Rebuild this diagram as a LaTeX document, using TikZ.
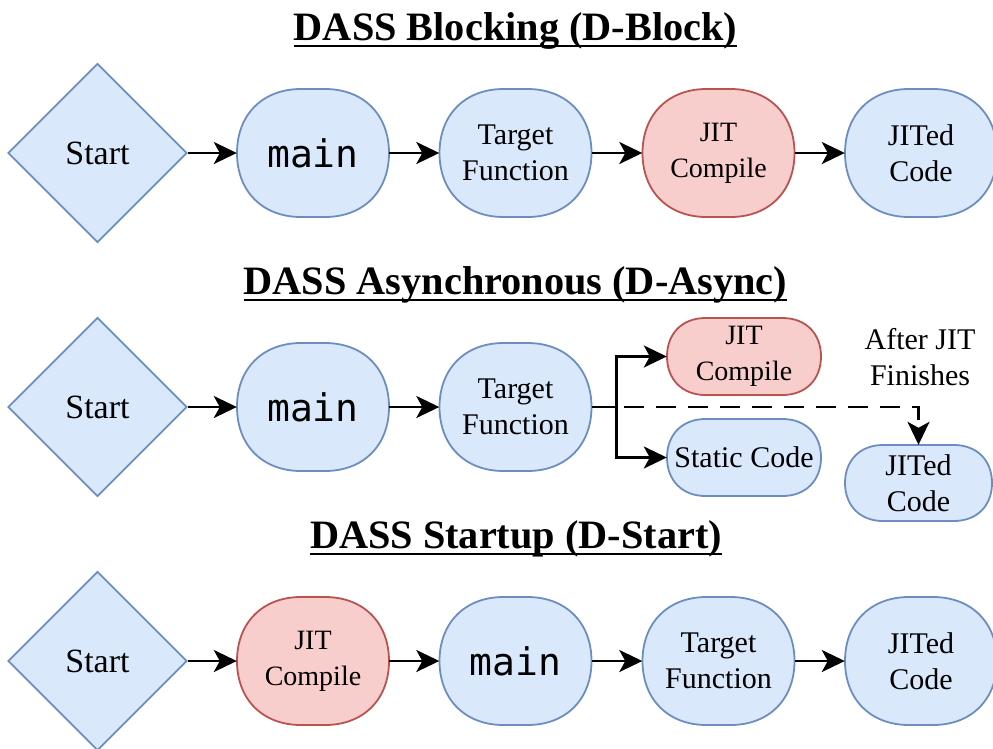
\documentclass[tikz,border=0pt]{standalone}
\usepackage{fontspec}
\setmainfont{Liberation Serif}
\newfontfamily\codefont{DejaVu Sans Mono}
\usetikzlibrary{shapes.geometric,arrows.meta}
\definecolor{bfill}{HTML}{DAE8FC}
\definecolor{bline}{HTML}{6C8EBF}
\definecolor{rfill}{HTML}{F8CECC}
\definecolor{rline}{HTML}{B85450}
\tikzset{
  blueshape/.style={line width=1.8pt, draw=bline, fill=bfill},
  redshape/.style={line width=1.8pt, draw=rline, fill=rfill},
  startdia/.style={blueshape, diamond, align=center, inner sep=0pt, minimum width=179pt, minimum height=179pt, font=\fontsize{34}{40}\selectfont},
  tf/.style={font=\fontsize{30}{36}\selectfont},
  jc/.style={font=\fontsize{28}{36}\selectfont},
  mainf/.style={font=\codefont\fontsize{38}{44}\selectfont},
  conn/.style={line width=2.6pt, -{Stealth[length=23pt,width=22pt,inset=6pt]}},
  ttl/.style={inner sep=0pt, anchor=base, font=\bfseries\fontsize{40.3}{48}\selectfont},
  uline/.style={line width=2.2pt},
}
% \ebox{name}{shape style}{cx}{cy}{half w}{half h}{corner r}{text style}{text}
% rounded box whose corners are curves between a circular arc and a quadratic
\newcommand\ebox[9]{%
  \draw[#2] (#3-#5+#7,#4-#6) -- (#3+#5-#7,#4-#6)
    .. controls (#3+#5-#7*0.4,#4-#6) and (#3+#5,#4-#6+#7*0.4) .. (#3+#5,#4-#6+#7)
    -- (#3+#5,#4+#6-#7)
    .. controls (#3+#5,#4+#6-#7*0.4) and (#3+#5-#7*0.4,#4+#6) .. (#3+#5-#7,#4+#6)
    -- (#3-#5+#7,#4+#6)
    .. controls (#3-#5+#7*0.4,#4+#6) and (#3-#5,#4+#6-#7*0.4) .. (#3-#5,#4+#6-#7)
    -- (#3-#5,#4-#6+#7)
    .. controls (#3-#5,#4-#6+#7*0.4) and (#3-#5+#7*0.4,#4-#6) .. (#3-#5+#7,#4-#6)
    -- cycle;
  \node[#8, align=center, inner sep=0pt, minimum width={2*#5pt}, minimum height={2*#6pt}] (#1) at (#3,#4) {#9};%
}
\begin{document}
\begin{tikzpicture}[x=1pt,y=-1pt]
\useasboundingbox (0,0) rectangle (993,748);
% ---------- Row 1 ----------
\node[ttl] (t1) at (515.5,40) {DASS Blocking (D-Block)};
\draw[uline] ([yshift=-6pt]t1.base west) -- ([yshift=-6pt]t1.base east);
\node[startdia] (s1) at (97.5,153) {Start};
\ebox{m1}{blueshape}{313}{153}{76}{64}{64}{mainf}{main}
\ebox{f1}{blueshape}{515.5}{153}{76}{64}{64}{tf}{Target\\Function}
\ebox{j1}{redshape}{718.5}{153}{76}{64}{64}{jc}{JIT\\Compile}
\ebox{c1}{blueshape}{921}{153}{76}{64}{64}{tf}{JITed\\Code}
\draw[conn] (s1.east) -- (m1.west);
\draw[conn] (m1.east) -- (f1.west);
\draw[conn] (f1.east) -- (j1.west);
\draw[conn] (j1.east) -- (c1.west);
% ---------- Row 2 ----------
\node[ttl] (t2) at (515.5,294) {DASS Asynchronous (D-Async)};
\draw[uline] ([yshift=-6pt]t2.base west) -- ([yshift=-6pt]t2.base east);
\node[startdia] (s2) at (97.5,407) {Start};
\ebox{m2}{blueshape}{313}{407}{76}{64}{64}{mainf}{main}
\ebox{f2}{blueshape}{515.5}{407}{76}{64}{64}{tf}{Target\\Function}
\ebox{j2}{redshape}{744}{356.5}{77}{38.5}{38.5}{jc}{JIT\\Compile}
\ebox{sc}{blueshape}{744}{457.5}{77}{38.5}{38.5}{tf}{Static Code}
\ebox{c2}{blueshape}{918.5}{483}{73.5}{38}{38}{tf}{JITed\\Code}
\node[tf, align=center, inner sep=0pt] (af) at (920,357) {After JIT\\Finishes};
\coordinate (br) at (616.5,407);
\draw[conn] (s2.east) -- (m2.west);
\draw[conn] (m2.east) -- (f2.west);
\draw[line width=2.6pt] (f2.east) -- (br);
\draw[conn] (br) |- (j2.west);
\draw[conn] (br) |- (sc.west);
\draw[conn, dash pattern=on 20pt off 12pt] (f2.east) -| (c2.north);
% ---------- Row 3 ----------
\node[ttl] (t3) at (516,548) {DASS Startup (D-Start)};
\draw[uline] ([yshift=-6pt]t3.base west) -- ([yshift=-6pt]t3.base east);
\node[startdia] (s3) at (97.5,661) {Start};
\ebox{j3}{redshape}{313}{661}{76}{64}{64}{jc}{JIT\\Compile}
\ebox{m3}{blueshape}{515.5}{661}{76}{64}{64}{mainf}{main}
\ebox{f3}{blueshape}{718.5}{661}{76}{64}{64}{tf}{Target\\Function}
\ebox{c3}{blueshape}{921}{661}{76}{64}{64}{tf}{JITed\\Code}
\draw[conn] (s3.east) -- (j3.west);
\draw[conn] (j3.east) -- (m3.west);
\draw[conn] (m3.east) -- (f3.west);
\draw[conn] (f3.east) -- (c3.west);
\end{tikzpicture}
\end{document}
